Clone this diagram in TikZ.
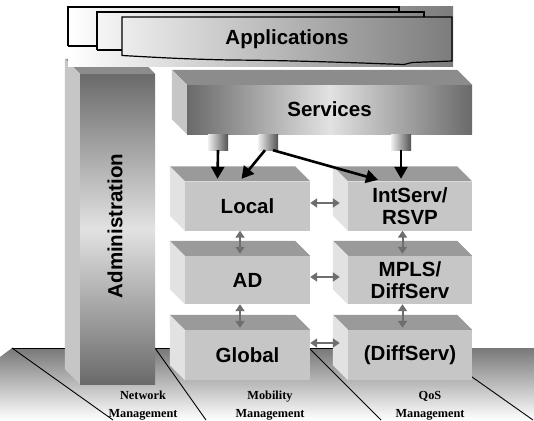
\documentclass[tikz,border=0pt]{standalone}
\usepackage{fontspec}
\setmainfont{Liberation Serif}
\newfontfamily\lsans{Liberation Sans}
\usetikzlibrary{arrows.meta}
\definecolor{topf}{HTML}{9A9A9A}
\definecolor{leftf}{HTML}{E2E2E2}
\definecolor{frontf}{HTML}{C6C6C6}
\definecolor{bigtop}{HTML}{8C8C8C}
\definecolor{bigleft}{HTML}{C6C6C6}
\definecolor{dgray}{HTML}{6A6A6A}
\definecolor{lgray}{HTML}{E2E2E2}
\definecolor{arrgray}{HTML}{6E6E6E}
\definecolor{floorgray}{HTML}{787878}
\definecolor{appgray}{HTML}{7C7C7C}
\newcommand\boxfaces[4]{%
  \fill[#3] (#1.north west) -- ++(-#2,-#2) -- ([xshift=-#2 pt,yshift=#2 pt]#1.north east) -- (#1.north east) -- cycle;
  \fill[#4] (#1.north west) -- ++(-#2,-#2) -- ([xshift=-#2 pt,yshift=#2 pt]#1.south west) -- (#1.south west) -- cycle;
}
\begin{document}
\begin{tikzpicture}[x=1pt,y=-1pt,
  lbl/.style={font=\lsans\bfseries\fontsize{20.5}{22.5}\selectfont, align=center, text=black, inner sep=0pt},
  layerbox/.style={lbl, fill=frontf, minimum width=125pt},
  pillar/.style={inner sep=0pt, minimum width=20pt, minimum height=16pt, left color=gray!12, right color=gray!65!black},
  floorline/.style={draw=black, line width=0.9pt},
  sheet/.style={draw=black, line width=1.2pt},
  blackarrow/.style={draw=black, line width=2.6pt, -{Triangle[length=12pt,width=13pt]}},
  grayarrow/.style={draw=arrgray, line width=2pt, {Triangle[length=7pt,width=9pt]}-{Triangle[length=7pt,width=9pt]}},
  floorlbl/.style={font=\bfseries\fontsize{12.3}{18}\selectfont, align=center, inner sep=0pt}
]
\fill[white] (0,0) rectangle (534,420);
\useasboundingbox (0,0) rectangle (534,420);

% floor
\shade[top color=floorgray, bottom color=white] (12,348) -- (534,348) -- (534,420) -- (0,420) -- (0,357) -- cycle;
\draw[floorline] (12,348) -- (431,348);
\draw[floorline] (12,348) -- (113,420);
\draw[floorline] (155,348) -- (206,420);
\draw[floorline] (310,349) -- (381,420);
\draw[floorline] (431,348) -- (533,420);

% administration column
\node[inner sep=0pt, minimum width=75pt, minimum height=310pt,
      top color=dgray, bottom color=dgray, middle color=lgray] (admin) at (117.5,229) {};
\boxfaces{admin}{15}{bigtop}{bigleft}
\node[lbl, rotate=90] (admintext) at (115,226) {Administration};

% applications
\shade[left color=white, right color=appgray] (68,7) rectangle (453,66);
\draw[sheet] (68,46) -- (68,7) -- (399,7) -- (399,12);
\draw[sheet] (68,46) -- (97,46);
\draw[sheet] (97,50) -- (97,12) -- (424,12) -- (424,17);
\draw[sheet] (97,50) -- (122,50);
\draw[sheet] (122,17) -- (452,17) -- (452,61) -- (412,62.5) -- (404,64.5)
   .. controls (360,63) and (300,60.5) .. (230,60)
   .. controls (180,59) and (150,57) .. (122,55.5) -- cycle;
\node[lbl] (apps) at (287,39) {Applications};

% services
\node[lbl, minimum width=285pt, minimum height=49pt,
      left color=dgray, right color=dgray, middle color=lgray] (services) at (329.5,109.5) {\raisebox{-2pt}{Services}};
\boxfaces{services}{15}{bigtop}{bigleft}
\node[pillar] (p1) at (218,142) {};
\node[pillar] (p2) at (268,142) {};
\node[pillar] (p3) at (401,142) {};

% layer boxes
\node[layerbox, minimum height=49pt] (local) at (247.5,206) {Local};
\node[layerbox, minimum height=49pt, minimum width=124pt] (intserv) at (410,206) {IntServ/\\RSVP};
\node[layerbox, minimum height=48pt] (ad) at (247.5,280) {AD};
\node[layerbox, minimum height=48pt, minimum width=124pt] (mpls) at (410,280) {MPLS/\\DiffServ};
\node[layerbox, minimum height=50pt] (global) at (247.5,355) {Global};
\node[layerbox, minimum height=50pt, minimum width=124pt] (diffserv) at (410,355) {(DiffServ)};
\boxfaces{local}{15}{topf}{leftf}
\boxfaces{intserv}{15}{topf}{leftf}
\boxfaces{ad}{15}{topf}{leftf}
\boxfaces{mpls}{15}{topf}{leftf}
\boxfaces{global}{15}{topf}{leftf}
\boxfaces{diffserv}{15}{topf}{leftf}

% black arrows from services
\coordinate (t1) at ([xshift=-30pt,yshift=2.5pt]local.north);
\coordinate (t2) at ([xshift=-6pt,yshift=2.5pt]local.north);
\coordinate (t3) at ([xshift=-32pt,yshift=1.5pt]intserv.north);
\coordinate (t4) at ([xshift=-9pt,yshift=2.5pt]intserv.north);
\draw[blackarrow] (p1.south) -- (t1);
\draw[blackarrow] ([xshift=-3pt]p2.south) -- (t2);
\draw[blackarrow] ([xshift=5pt]p2.south) -- (t3);
\draw[blackarrow] (p3.south) -- (t4);

% gray double arrows
\draw[grayarrow] ([yshift=3pt]local.east) -- ([xshift=-8pt,yshift=3pt]intserv.west);
\draw[grayarrow] ([yshift=3pt]ad.east) -- ([xshift=-8pt,yshift=3pt]mpls.west);
\draw[grayarrow] ([yshift=12pt]global.east) -- ([xshift=-8pt,yshift=12pt]diffserv.west);
\draw[grayarrow] ([xshift=-7.5pt]local.south) -- ([xshift=-7.5pt,yshift=2pt]ad.north);
\draw[grayarrow] ([xshift=-7.5pt]intserv.south) -- ([xshift=-7.5pt,yshift=2pt]mpls.north);
\draw[grayarrow] ([xshift=-7.5pt]ad.south) -- ([xshift=-7.5pt,yshift=2pt]global.north);
\draw[grayarrow] ([xshift=-7.5pt]mpls.south) -- ([xshift=-7.5pt,yshift=2pt]diffserv.north);

% floor labels
\node[floorlbl] (netm) at (143,405.5) {Network\\Management};
\node[floorlbl] (mobm) at (270,405.5) {Mobility\\Management};
\node[floorlbl] (qosm) at (430,405.5) {QoS\\Management};
\end{tikzpicture}
\end{document}
